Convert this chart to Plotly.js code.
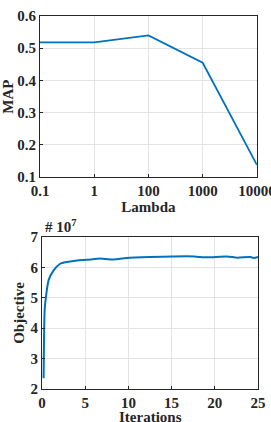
<!DOCTYPE html>
<html><head><meta charset="utf-8">
<script src="https://cdn.plot.ly/plotly-3.0.1.min.js"></script>
<style>html,body{margin:0;padding:0;background:#fff;}#c{width:271px;height:422px;}</style>
</head><body><div id="c"></div>
<script>
const lambdaLabels = ["0.1", "1", "100", "1000", "10000"];
const mapValues = [0.518, 0.518, 0.540, 0.455, 0.138];
const mapTicks = [0.1, 0.2, 0.3, 0.4, 0.5, 0.6];
const iterations = [0.19, 0.31, 0.46, 0.77, 1.35, 2.1, 2.9, 4.05, 5.2, 6.75, 7.9, 9.8, 12.5, 15.2, 17.6, 19.1, 21.4, 22.6, 24.1, 24.5, 25];
const objective = [2.35, 4.6, 5.03, 5.58, 5.9, 6.12, 6.18, 6.23, 6.25, 6.29, 6.26, 6.31, 6.34, 6.36, 6.36, 6.33, 6.36, 6.32, 6.34, 6.31, 6.34].map(v => v * 1e7);
const iterTicks = [0, 5, 10, 15, 20, 25];
const objTicks = [2, 3, 4, 5, 6, 7];

const fam = "Liberation Serif, Times New Roman, serif";
const ink = "#262626";
const blue = "#0072BD";
const b = (s) => "<b>" + s + "</b>";
const axBase = {
  showline: true, mirror: true, linecolor: ink, linewidth: 1,
  ticks: "inside", ticklen: 3, tickcolor: ink,
  showgrid: true, gridcolor: "#e3e3e3", zeroline: false,
  tickfont: {family: fam, size: 15, color: ink}
};
const tf = (t, standoff) => ({text: b(t), font: {family: fam, size: 15, color: ink}, standoff: standoff});

const data = [
  {x: lambdaLabels, y: mapValues, xaxis: "x", yaxis: "y", type: "scatter", mode: "lines",
   line: {color: blue, width: 1.8}, hoverinfo: "skip"},
  {x: iterations, y: objective, xaxis: "x2", yaxis: "y2", type: "scatter", mode: "lines",
   line: {color: blue, width: 2, shape: "spline", smoothing: 0.6}, hoverinfo: "skip"}
];

const layout = {
  width: 271, height: 422,
  margin: {l: 40, r: 13, t: 16, b: 33},
  paper_bgcolor: "#fff", plot_bgcolor: "#fff",
  showlegend: false, font: {family: fam, size: 15, color: ink},
  xaxis: Object.assign({}, axBase, {domain: [0, 0.995], anchor: "y", type: "category",
    range: [0, 4], tickvals: lambdaLabels, ticktext: lambdaLabels.map(b),
    title: tf("Lambda", 1)}),
  yaxis: Object.assign({}, axBase, {domain: [0.568, 1], anchor: "x", range: [0.1, 0.6],
    tickvals: mapTicks, ticktext: mapTicks.map(v => b(v.toFixed(1))),
    title: tf("MAP", 6)}),
  xaxis2: Object.assign({}, axBase, {domain: [0.009, 1], anchor: "y2", range: [0, 25],
    tickvals: iterTicks, ticktext: iterTicks.map(v => b(String(v)))}),
  yaxis2: Object.assign({}, axBase, {domain: [0, 0.4075], anchor: "x2", range: [2e7, 7e7],
    tickvals: objTicks.map(v => v * 1e7), ticktext: objTicks.map(v => b(String(v))),
    title: tf("Objective", 2)}),
  annotations: [
    {xref: "paper", yref: "paper", x: 0.015, y: 0.4075, xanchor: "left", yanchor: "bottom",
     text: b("# 10<sup>7</sup>"), showarrow: false,
     font: {family: fam, size: 15, color: ink}},
    {xref: "paper", yref: "paper", x: 0.505, y: -0.074, xanchor: "center", yanchor: "middle",
     text: b("Iterations"), showarrow: false,
     font: {family: fam, size: 15, color: ink}}
  ]
};

Plotly.newPlot("c", data, layout, {staticPlot: true, displayModeBar: false});
</script>
</body></html>
